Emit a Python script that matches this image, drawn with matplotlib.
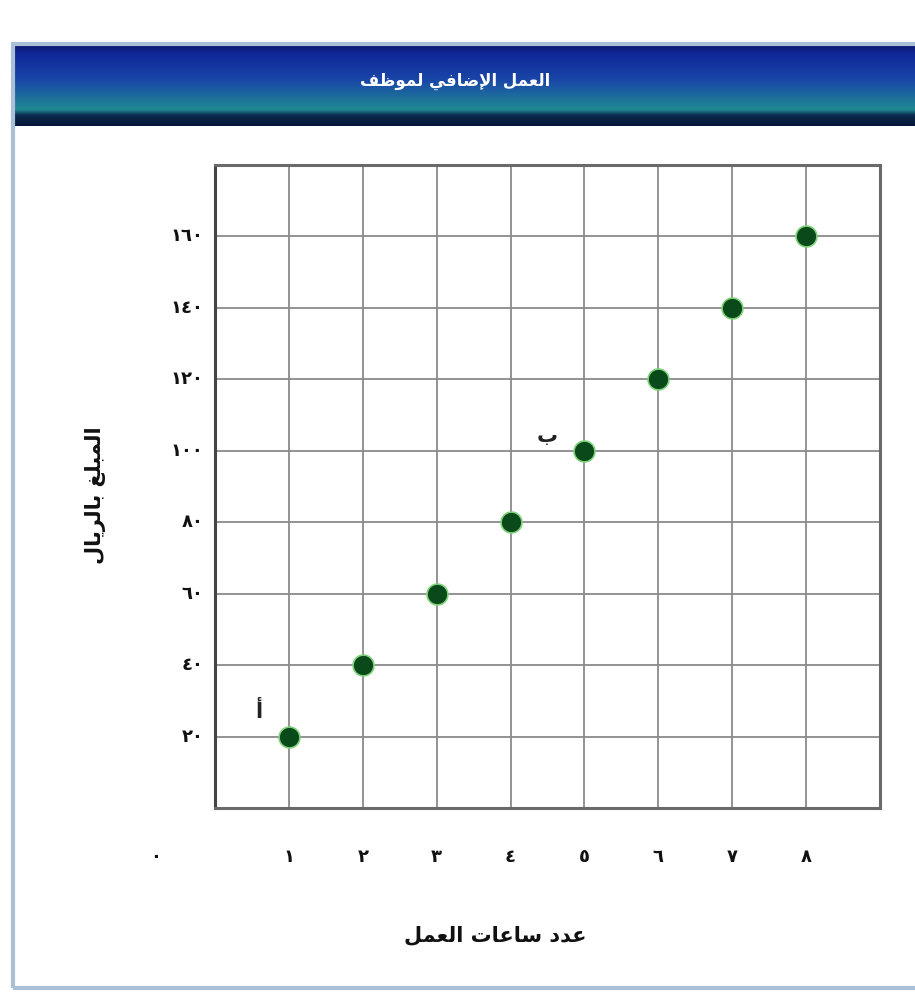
import numpy as np
import matplotlib
matplotlib.use("Agg")
import matplotlib.pyplot as plt
from matplotlib.patches import Rectangle

# ---------------- data ----------------
hours = [1, 2, 3, 4, 5, 6, 7, 8]
amounts = [20, 40, 60, 80, 100, 120, 140, 160]
x_ticks = [1, 2, 3, 4, 5, 6, 7, 8]
x_tick_labels = ["١", "٢", "٣", "٤", "٥", "٦", "٧", "٨"]
y_ticks = [20, 40, 60, 80, 100, 120, 140, 160]
y_tick_labels = ["٢٠", "٤٠", "٦٠", "٨٠", "١٠٠", "١٢٠", "١٤٠", "١٦٠"]
zero_label = "٠"
title = "العمل الإضافي لموظف"
x_label = "عدد ساعات العمل"
y_label = "المبلغ بالريال"
point_labels = [("أ", 0.6, 27), ("ب", 4.5, 104)]

# ------------- Arabic shaping (presentation forms, visual order) -------------
FORMS = {
    '\u0627': ('\uFE8D', '\uFE8E', None, None),
    '\u0623': ('\uFE83', '\uFE84', None, None),
    '\u0625': ('\uFE87', '\uFE88', None, None),
    '\u0628': ('\uFE8F', '\uFE90', '\uFE91', '\uFE92'),
    '\u062A': ('\uFE95', '\uFE96', '\uFE97', '\uFE98'),
    '\u0629': ('\uFE93', '\uFE94', None, None),
    '\u062F': ('\uFEA9', '\uFEAA', None, None),
    '\u0631': ('\uFEAD', '\uFEAE', None, None),
    '\u0633': ('\uFEB1', '\uFEB2', '\uFEB3', '\uFEB4'),
    '\u0636': ('\uFEBD', '\uFEBE', '\uFEBF', '\uFEC0'),
    '\u0638': ('\uFEC5', '\uFEC6', '\uFEC7', '\uFEC8'),
    '\u0639': ('\uFEC9', '\uFECA', '\uFECB', '\uFECC'),
    '\u063A': ('\uFECD', '\uFECE', '\uFECF', '\uFED0'),
    '\u0641': ('\uFED1', '\uFED2', '\uFED3', '\uFED4'),
    '\u0644': ('\uFEDD', '\uFEDE', '\uFEDF', '\uFEE0'),
    '\u0645': ('\uFEE1', '\uFEE2', '\uFEE3', '\uFEE4'),
    '\u0648': ('\uFEED', '\uFEEE', None, None),
    '\u064A': ('\uFEF1', '\uFEF2', '\uFEF3', '\uFEF4'),
    '\u0649': ('\uFEEF', '\uFEF0', None, None),
}
LAMALEF = {
    '\u0627': ('\uFEFB', '\uFEFC'),
    '\u0623': ('\uFEF7', '\uFEF8'),
    '\u0625': ('\uFEF9', '\uFEFA'),
}


def shape(s):
    toks = []
    i = 0
    while i < len(s):
        c = s[i]
        if c == '\u0644' and i + 1 < len(s) and s[i + 1] in LAMALEF:
            toks.append(('LA', s[i + 1]))
            i += 2
        else:
            toks.append(c)
            i += 1

    def joins_next(t):
        if isinstance(t, tuple):
            return False
        f = FORMS.get(t)
        return f is not None and f[2] is not None

    def joins_prev(t):
        return isinstance(t, tuple) or t in FORMS

    out = []
    for k, t in enumerate(toks):
        prev = toks[k - 1] if k > 0 else None
        nxt = toks[k + 1] if k + 1 < len(toks) else None
        p = prev is not None and joins_next(prev) and joins_prev(t)
        n = nxt is not None and joins_next(t) and joins_prev(nxt)
        if isinstance(t, tuple):
            iso, fin = LAMALEF[t[1]]
            out.append(fin if p else iso)
        elif t in FORMS:
            iso, fin, ini, med = FORMS[t]
            if p and n:
                out.append(med)
            elif p:
                out.append(fin)
            elif n:
                out.append(ini)
            else:
                out.append(iso)
        else:
            out.append(t)
    return ''.join(reversed(out))


plt.rcParams['font.family'] = ['DejaVu Sans']

W, H = 915, 994
fig = plt.figure(figsize=(W / 100, H / 100), dpi=100)
fig.patch.set_facecolor('white')

# card frame
fig.patches.append(Rectangle((13 / W, 6 / H), 1.2, 944 / H,
                             transform=fig.transFigure, fill=False,
                             edgecolor='#a9c0d6', lw=3, zorder=0))

# header gradient
hax = fig.add_axes([14 / W, 1 - 126 / H, 901 / W, 82 / H])
stops_y = [0.0, 0.12, 0.45, 0.8, 0.87, 1.0]
stops_c = [np.array(matplotlib.colors.to_rgb(c)) for c in
           ['#0a1766', '#10289a', '#1a48a8', '#1f8a92', '#0a2a50', '#061636']]
ys = np.linspace(0, 1, 200)
grad = np.zeros((200, 1, 3))
for ch in range(3):
    grad[:, 0, ch] = np.interp(ys, stops_y, [c[ch] for c in stops_c])
hax.imshow(grad, aspect='auto', extent=[0, 1, 1, 0])
hax.set_axis_off()
hax.text(0.49, 0.55, shape(title), color='white', fontsize=12, fontweight='bold',
         ha='center', va='center', transform=hax.transAxes)

# main plot
ax = fig.add_axes([215 / W, 1 - 808 / H, 665 / W, 643 / H])
ax.set_xlim(0, 9)
ax.set_ylim(0, 180)
ax.set_xticks(range(0, 10))
ax.set_yticks(range(0, 181, 20))
ax.grid(True, color='#8a8a8a', lw=1.3)
ax.set_axisbelow(True)
ax.tick_params(length=0, labelleft=False, labelbottom=False)
for sp in ax.spines.values():
    sp.set_color('#6a6a6a')
    sp.set_linewidth(2.2)
ax.spines['left'].set_color('#444444')

ax.plot(hours, amounts, linestyle='none', marker='o', ms=15,
        mfc='#0a4a1a', mec='#7ed07a', mew=1.2, zorder=5, clip_on=False)

# tick labels
for v, lab in zip(y_ticks, y_tick_labels):
    ax.text(-0.16, v, lab, ha='right', va='center', fontsize=13,
            fontweight='bold', color='#111111', clip_on=False)
for v, lab in zip(x_ticks, x_tick_labels):
    ax.text(v, -13.7, lab, ha='center', va='center', fontsize=13,
            fontweight='bold', color='#111111', clip_on=False)
ax.text(-0.8, -13.7, zero_label, ha='center', va='center', fontsize=13,
        fontweight='bold', color='#111111', clip_on=False)

for lab, px, py in point_labels:
    ax.text(px, py, shape(lab), ha='center', va='center', fontsize=15,
            fontweight='bold', color='#222222', zorder=6)

fig.text(495 / W, 1 - 935 / H, shape(x_label), ha='center', va='center',
         fontsize=15, fontweight='bold', color='#111111')
fig.text(95 / W, 1 - 495 / H, shape(y_label), ha='center', va='center',
         fontsize=15, fontweight='bold', color='#111111', rotation=90)

fig.savefig('out.png', dpi=100)
